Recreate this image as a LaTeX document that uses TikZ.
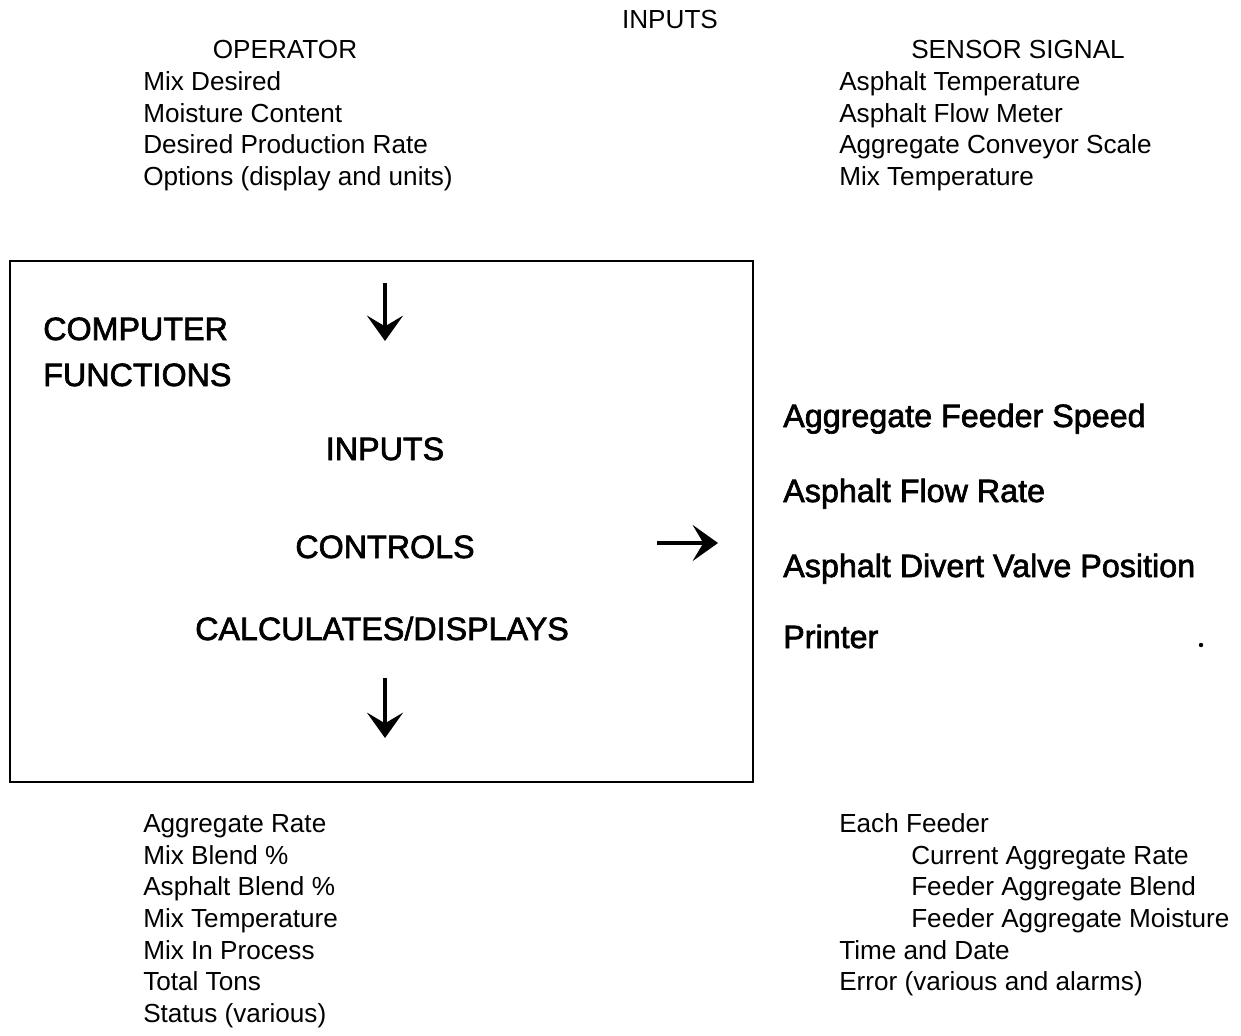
\documentclass[tikz,border=0pt]{standalone}
\usepackage{fontspec}
\setmainfont{Liberation Sans}
\newfontfamily\bigfont[FakeBold=2]{Liberation Sans}
\usetikzlibrary{arrows.meta}
\tikzset{
  sm/.style={font=\fontsize{19.6pt}{22pt}\selectfont, inner sep=0pt, anchor=base west},
  smc/.style={font=\fontsize{19.6pt}{22pt}\selectfont, inner sep=0pt, anchor=base},
  bg/.style={font=\bigfont\fontsize{24.2pt}{28pt}\selectfont, inner sep=0pt, anchor=base west},
  bgc/.style={font=\bigfont\fontsize{24.2pt}{28pt}\selectfont, inner sep=0pt, anchor=base},
  frame/.style={draw, line width=2pt},
  arr/.style={line width=2.6pt, -{Stealth[length=19pt,width=27pt,inset=8pt]}}
}
\begin{document}
\begin{tikzpicture}[x=0.75pt,y=-0.75pt]
\useasboundingbox (0,0) rectangle (1241,1035);
% top
\node[smc] (tin) at (670,28) {INPUTS};
\node[smc] (op) at (285,58) {OPERATOR};
\node[smc] (ss) at (1018,58) {SENSOR SIGNAL};
\node[sm] (o1) at (143,90) {Mix Desired};
\node[sm] (o2) at (143,122) {Moisture Content};
\node[sm] (o3) at (143,153) {Desired Production Rate};
\node[sm] (o4) at (143,185) {Options (display and units)};
\node[sm] (s1) at (839,90) {Asphalt Temperature};
\node[sm] (s2) at (839,122) {Asphalt Flow Meter};
\node[sm] (s3) at (839,153) {Aggregate Conveyor Scale};
\node[sm] (s4) at (839,185) {Mix Temperature};
% box
\draw[frame] (10,261) rectangle (753,782);
\node[bg] (cf1) at (43,340) {COMPUTER};
\node[bg] (cf2) at (43,386) {FUNCTIONS};
\node[bgc] (bin) at (385,460) {INPUTS};
\node[bgc] (ctl) at (385,558) {CONTROLS};
\node[bgc] (cd) at (382,640) {CALCULATES/DISPLAYS};
\coordinate (a1s) at (385,283);
\coordinate (a1e) at (385,341);
\draw[arr] (a1s) -- (a1e);
\coordinate (a2s) at (657,543);
\coordinate (a2e) at (718,543);
\draw[arr] (a2s) -- (a2e);
\coordinate (a3s) at (385,678);
\coordinate (a3e) at (385,738);
\draw[arr] (a3s) -- (a3e);
% outputs
\node[bg] (r1) at (783,427) {Aggregate Feeder Speed};
\node[bg] (r2) at (783,502) {Asphalt Flow Rate};
\node[bg] (r3) at (783,577) {Asphalt Divert Valve Position};
\node[bg] (r4) at (783,648) {Printer};
\fill (1201,645) circle (2.2);
% bottom
\node[sm] (b1) at (143,832) {Aggregate Rate};
\node[sm] (b2) at (143,864) {Mix Blend \%};
\node[sm] (b3) at (143,895) {Asphalt Blend \%};
\node[sm] (b4) at (143,927) {Mix Temperature};
\node[sm] (b5) at (143,959) {Mix In Process};
\node[sm] (b6) at (143,990) {Total Tons};
\node[sm] (b7) at (143,1022) {Status (various)};
\node[sm] (c1) at (839,832) {Each Feeder};
\node[sm] (c2) at (911,864) {Current Aggregate Rate};
\node[sm] (c3) at (911,895) {Feeder Aggregate Blend};
\node[sm] (c4) at (911,927) {Feeder Aggregate Moisture};
\node[sm] (c5) at (839,959) {Time and Date};
\node[sm] (c6) at (839,990) {Error (various and alarms)};
\end{tikzpicture}
\end{document}
